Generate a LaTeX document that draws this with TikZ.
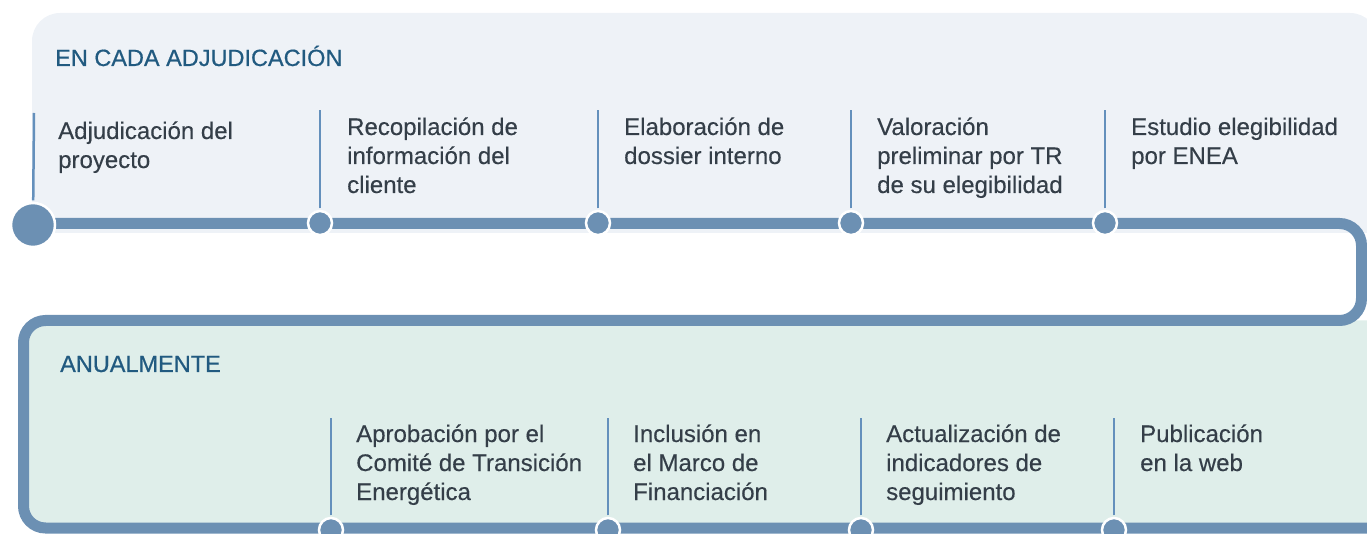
\documentclass[tikz,border=0pt]{standalone}
\usepackage{fontspec}
\setmainfont{Liberation Sans}
\newfontfamily\fuenteMedia[FakeBold=0.6]{Liberation Sans}
\newfontfamily\fuenteTexto[FakeBold=0.3]{Liberation Sans}
\definecolor{azulLinea}{HTML}{6C90B3}
\definecolor{azulMarca}{HTML}{6490BC}
\definecolor{fondoArriba}{HTML}{EEF2F7}
\definecolor{fondoAbajo}{HTML}{DFEEEA}
\definecolor{azulTitulo}{HTML}{215A80}
\definecolor{grisTexto}{HTML}{343E48}
\begin{document}
\begin{tikzpicture}[x=1pt, y=1pt,
        hito/.style={circle, fill=azulLinea, draw=white, line width=2.5pt, minimum size=24pt, inner sep=0pt},
        inicio/.style={hito, minimum size=44pt},
        marca/.style={draw=azulMarca, line width=2.5pt, shorten <=1.3pt},
        texto/.style={anchor=base west, align=left, inner sep=0pt, text=grisTexto, font=\fuenteTexto\fontsize{24}{29}\selectfont},
        titulo/.style={anchor=base west, inner sep=0pt, text=azulTitulo, font=\fuenteMedia\fontsize{23.5}{28}\selectfont}
    ]
        \clip (0,0) rectangle (1367,533);

        % Fondos de los dos bloques
        \fill[fondoArriba] (32,300) [rounded corners=28pt] -- (32,520) -- (1378,520) [sharp corners] -- (1378,300) -- cycle;
        \fill[fondoAbajo, rounded corners=22pt] (1390,212.5) -- (23.5,212.5) -- (23.5,5) -- (1390,5) [sharp corners] -- cycle;

        % Linea de tiempo
        \draw[azulLinea, line width=11pt, rounded corners=22pt]
            (33,309.5) -- (1361.5,309.5) -- (1361.5,212.5) -- (23.5,212.5) -- (23.5,5) -- (1390,5);

        \node[titulo] (tit1) at (55,467) {EN CADA ADJUDICACIÓN};
        \node[titulo] (tit2) at (60,161) {ANUALMENTE};

        % Hitos en cada adjudicacion (texto anclado en su ultima linea)
        \node[inicio] (h1) at (33,308) {};
        \node[hito] (h2) at (320,310) {};
        \node[hito] (h3) at (598,310) {};
        \node[hito] (h4) at (851,310) {};
        \node[hito] (h5) at (1105,310) {};
        \coordinate (m1) at (34,420);
        \coordinate (m2) at (320,423);
        \coordinate (m3) at (598,423);
        \coordinate (m4) at (851,423);
        \coordinate (m5) at (1105,423);
        \draw[marca] (h1) -- (m1);
        \draw[marca] (h2) -- (m2);
        \draw[marca] (h3) -- (m3);
        \draw[marca] (h4) -- (m4);
        \draw[marca] (h5) -- (m5);

        \node[texto] (t1) at (58,365) {Adjudicación del\\proyecto};
        \node[texto] (t2) at (347,340) {Recopilación de\\información del\\cliente};
        \node[texto] (t3) at (624,369) {Elaboración de\\dossier interno};
        \node[texto] (t4) at (877,340) {Valoración\\preliminar por TR\\de su elegibilidad};
        \node[texto] (t5) at (1131,369) {Estudio elegibilidad\\por ENEA};

        % Hitos anuales
        \node[hito] (a1) at (331,3) {};
        \node[hito] (a2) at (608,3) {};
        \node[hito] (a3) at (861,3) {};
        \node[hito] (a4) at (1114,3) {};
        \coordinate (n1) at (331,115);
        \coordinate (n2) at (608,115);
        \coordinate (n3) at (861,115);
        \coordinate (n4) at (1114,115);
        \draw[marca] (a1) -- (n1);
        \draw[marca] (a2) -- (n2);
        \draw[marca] (a3) -- (n3);
        \draw[marca] (a4) -- (n4);

        \node[texto] (u1) at (356,33) {Aprobación por el\\Comité de Transición\\Energética};
        \node[texto] (u2) at (633,33) {Inclusión en\\el Marco de\\Financiación};
        \node[texto] (u3) at (886,33) {Actualización de\\indicadores de\\seguimiento};
        \node[texto] (u4) at (1140,62) {Publicación\\en la web};
    \end{tikzpicture}
\end{document}
